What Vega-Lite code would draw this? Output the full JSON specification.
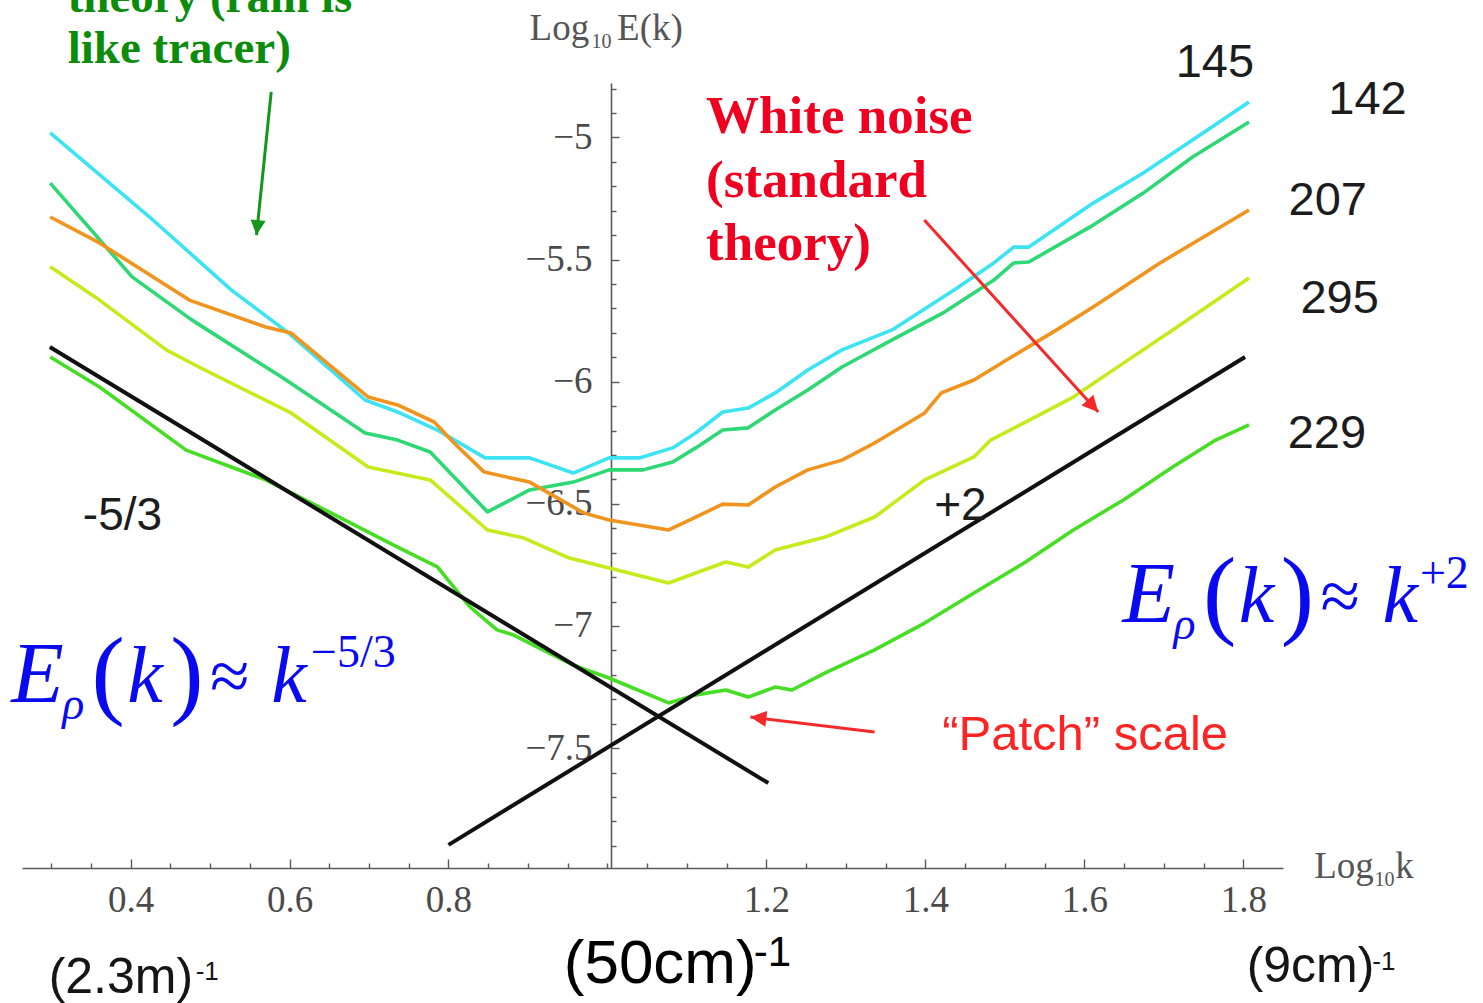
{
  "$schema": "https://vega.github.io/schema/vega-lite/v6.json",
  "width": 1261,
  "height": 785,
  "autosize": {"type": "none"},
  "padding": {"left": 22, "top": 83, "right": 200, "bottom": 135},
  "background": "white",
  "config": {"view": {"stroke": null}},
  "resolve": {"axis": {"x": "independent", "y": "independent"}},
  "datasets": {
    "spectra": [
      {"series": "145", "x": 0.299, "y": -4.982}, {"series": "145", "x": 0.424, "y": -5.326}, {"series": "145", "x": 0.527, "y": -5.625}, {"series": "145", "x": 0.599, "y": -5.801}, {"series": "145", "x": 0.695, "y": -6.075}, {"series": "145", "x": 0.736, "y": -6.124}, {"series": "145", "x": 0.786, "y": -6.198}, {"series": "145", "x": 0.846, "y": -6.312}, {"series": "145", "x": 0.902, "y": -6.312}, {"series": "145", "x": 0.957, "y": -6.374}, {"series": "145", "x": 1.002, "y": -6.312}, {"series": "145", "x": 1.040, "y": -6.312}, {"series": "145", "x": 1.082, "y": -6.271}, {"series": "145", "x": 1.111, "y": -6.210}, {"series": "145", "x": 1.145, "y": -6.124}, {"series": "145", "x": 1.177, "y": -6.108}, {"series": "145", "x": 1.211, "y": -6.046}, {"series": "145", "x": 1.252, "y": -5.952}, {"series": "145", "x": 1.295, "y": -5.870}, {"series": "145", "x": 1.358, "y": -5.788}, {"series": "145", "x": 1.436, "y": -5.625}, {"series": "145", "x": 1.486, "y": -5.514}, {"series": "145", "x": 1.511, "y": -5.449}, {"series": "145", "x": 1.530, "y": -5.449}, {"series": "145", "x": 1.611, "y": -5.269}, {"series": "145", "x": 1.674, "y": -5.146}, {"series": "145", "x": 1.736, "y": -5.011}, {"series": "145", "x": 1.807, "y": -4.855},
      {"series": "142", "x": 0.299, "y": -5.187}, {"series": "142", "x": 0.402, "y": -5.571}, {"series": "142", "x": 0.477, "y": -5.747}, {"series": "142", "x": 0.590, "y": -5.981}, {"series": "142", "x": 0.695, "y": -6.210}, {"series": "142", "x": 0.736, "y": -6.239}, {"series": "142", "x": 0.777, "y": -6.288}, {"series": "142", "x": 0.849, "y": -6.533}, {"series": "142", "x": 0.902, "y": -6.443}, {"series": "142", "x": 0.957, "y": -6.411}, {"series": "142", "x": 1.002, "y": -6.361}, {"series": "142", "x": 1.045, "y": -6.361}, {"series": "142", "x": 1.082, "y": -6.329}, {"series": "142", "x": 1.111, "y": -6.271}, {"series": "142", "x": 1.145, "y": -6.198}, {"series": "142", "x": 1.177, "y": -6.189}, {"series": "142", "x": 1.211, "y": -6.116}, {"series": "142", "x": 1.252, "y": -6.034}, {"series": "142", "x": 1.295, "y": -5.940}, {"series": "142", "x": 1.358, "y": -5.829}, {"series": "142", "x": 1.424, "y": -5.715}, {"series": "142", "x": 1.486, "y": -5.584}, {"series": "142", "x": 1.511, "y": -5.514}, {"series": "142", "x": 1.530, "y": -5.510}, {"series": "142", "x": 1.611, "y": -5.359}, {"series": "142", "x": 1.674, "y": -5.228}, {"series": "142", "x": 1.736, "y": -5.080}, {"series": "142", "x": 1.807, "y": -4.937},
      {"series": "207", "x": 0.299, "y": -5.326}, {"series": "207", "x": 0.361, "y": -5.432}, {"series": "207", "x": 0.474, "y": -5.666}, {"series": "207", "x": 0.570, "y": -5.776}, {"series": "207", "x": 0.602, "y": -5.801}, {"series": "207", "x": 0.699, "y": -6.063}, {"series": "207", "x": 0.736, "y": -6.095}, {"series": "207", "x": 0.782, "y": -6.165}, {"series": "207", "x": 0.807, "y": -6.251}, {"series": "207", "x": 0.845, "y": -6.370}, {"series": "207", "x": 0.902, "y": -6.411}, {"series": "207", "x": 0.970, "y": -6.537}, {"series": "207", "x": 1.002, "y": -6.566}, {"series": "207", "x": 1.077, "y": -6.607}, {"series": "207", "x": 1.111, "y": -6.554}, {"series": "207", "x": 1.145, "y": -6.501}, {"series": "207", "x": 1.177, "y": -6.505}, {"series": "207", "x": 1.211, "y": -6.431}, {"series": "207", "x": 1.252, "y": -6.361}, {"series": "207", "x": 1.295, "y": -6.321}, {"series": "207", "x": 1.336, "y": -6.251}, {"series": "207", "x": 1.399, "y": -6.128}, {"series": "207", "x": 1.420, "y": -6.046}, {"series": "207", "x": 1.461, "y": -5.993}, {"series": "207", "x": 1.502, "y": -5.911}, {"series": "207", "x": 1.565, "y": -5.788}, {"series": "207", "x": 1.611, "y": -5.694}, {"series": "207", "x": 1.695, "y": -5.514}, {"series": "207", "x": 1.807, "y": -5.297},
      {"series": "295", "x": 0.299, "y": -5.530}, {"series": "295", "x": 0.361, "y": -5.666}, {"series": "295", "x": 0.445, "y": -5.870}, {"series": "295", "x": 0.486, "y": -5.940}, {"series": "295", "x": 0.602, "y": -6.128}, {"series": "295", "x": 0.699, "y": -6.349}, {"series": "295", "x": 0.777, "y": -6.402}, {"series": "295", "x": 0.849, "y": -6.607}, {"series": "295", "x": 0.895, "y": -6.640}, {"series": "295", "x": 0.952, "y": -6.722}, {"series": "295", "x": 1.002, "y": -6.763}, {"series": "295", "x": 1.077, "y": -6.824}, {"series": "295", "x": 1.111, "y": -6.783}, {"series": "295", "x": 1.149, "y": -6.738}, {"series": "295", "x": 1.177, "y": -6.759}, {"series": "295", "x": 1.211, "y": -6.689}, {"series": "295", "x": 1.274, "y": -6.636}, {"series": "295", "x": 1.336, "y": -6.554}, {"series": "295", "x": 1.399, "y": -6.402}, {"series": "295", "x": 1.461, "y": -6.308}, {"series": "295", "x": 1.482, "y": -6.239}, {"series": "295", "x": 1.524, "y": -6.169}, {"series": "295", "x": 1.586, "y": -6.063}, {"series": "295", "x": 1.649, "y": -5.924}, {"series": "295", "x": 1.711, "y": -5.788}, {"series": "295", "x": 1.807, "y": -5.576},
      {"series": "229", "x": 0.299, "y": -5.899}, {"series": "229", "x": 0.361, "y": -6.022}, {"series": "229", "x": 0.470, "y": -6.280}, {"series": "229", "x": 0.570, "y": -6.402}, {"series": "229", "x": 0.652, "y": -6.537}, {"series": "229", "x": 0.736, "y": -6.677}, {"series": "229", "x": 0.786, "y": -6.758}, {"series": "229", "x": 0.827, "y": -6.922}, {"series": "229", "x": 0.861, "y": -7.016}, {"series": "229", "x": 0.882, "y": -7.037}, {"series": "229", "x": 0.957, "y": -7.160}, {"series": "229", "x": 1.002, "y": -7.213}, {"series": "229", "x": 1.077, "y": -7.315}, {"series": "229", "x": 1.111, "y": -7.282}, {"series": "229", "x": 1.149, "y": -7.262}, {"series": "229", "x": 1.177, "y": -7.291}, {"series": "229", "x": 1.211, "y": -7.250}, {"series": "229", "x": 1.232, "y": -7.262}, {"series": "229", "x": 1.274, "y": -7.192}, {"series": "229", "x": 1.336, "y": -7.098}, {"series": "229", "x": 1.399, "y": -6.988}, {"series": "229", "x": 1.461, "y": -6.865}, {"series": "229", "x": 1.524, "y": -6.742}, {"series": "229", "x": 1.586, "y": -6.607}, {"series": "229", "x": 1.649, "y": -6.484}, {"series": "229", "x": 1.711, "y": -6.349}, {"series": "229", "x": 1.765, "y": -6.239}, {"series": "229", "x": 1.807, "y": -6.177}
    ],
    "fits": [
      {"fit": "-5/3", "x": 0.2985, "y": -5.858}, {"fit": "-5/3", "x": 1.2023, "y": -7.643},
      {"fit": "+2", "x": 0.800, "y": -7.896}, {"fit": "+2", "x": 1.802, "y": -5.899}
    ],
    "arrows": [
      {"arrow": "rain", "x": 0.577, "y": -4.814, "x2": 0.5585, "y2": -5.400},
      {"arrow": "noise", "x": 1.3985, "y": -5.338, "x2": 1.6173, "y2": -6.124},
      {"arrow": "patch", "x": 1.336, "y": -7.434, "x2": 1.1798, "y2": -7.3725}
    ],
    "notes": [
      {"kind": "series", "label": "145", "x": 1.764, "y": -4.753},
      {"kind": "series", "label": "142", "x": 1.956, "y": -4.903},
      {"kind": "series", "label": "207", "x": 1.906, "y": -5.318},
      {"kind": "series", "label": "295", "x": 1.921, "y": -5.719},
      {"kind": "series", "label": "229", "x": 1.905, "y": -6.271},
      {"kind": "slope", "label": "-5/3", "x": 0.340, "y": -6.607},
      {"kind": "slope", "label": "+2", "x": 1.411, "y": -6.566},
      {"kind": "green", "label": "theory (rain is", "x": 0.321, "y": -4.487},
      {"kind": "green", "label": "like tracer)", "x": 0.321, "y": -4.695},
      {"kind": "red", "label": "White noise", "x": 1.124, "y": -4.982},
      {"kind": "red", "label": "(standard", "x": 1.124, "y": -5.244},
      {"kind": "red", "label": "theory)", "x": 1.124, "y": -5.502},
      {"kind": "patch", "label": "“Patch” scale", "x": 1.421, "y": -7.508},
      {"kind": "scale", "label": "(2.3m)", "x": 0.297, "y": -8.502},
      {"kind": "scale", "label": "(9cm)", "x": 1.804, "y": -8.457},
      {"kind": "scaleBig", "label": "(50cm)", "x": 0.945, "y": -8.461},
      {"kind": "sup", "label": "-1", "x": 0.482, "y": -8.449},
      {"kind": "sup", "label": "-1", "x": 1.962, "y": -8.408},
      {"kind": "supBig", "label": "-1", "x": 1.184, "y": -8.392},
      {"kind": "fE", "label": "E", "x": 0.250, "y": -7.311},
      {"kind": "fE", "label": "E", "x": 1.648, "y": -6.984},
      {"kind": "fK", "label": "k", "x": 0.396, "y": -7.311},
      {"kind": "fK", "label": "k", "x": 0.577, "y": -7.311},
      {"kind": "fK", "label": "k", "x": 1.794, "y": -6.984},
      {"kind": "fK", "label": "k", "x": 1.975, "y": -6.984},
      {"kind": "fRho", "label": "ρ", "x": 0.314, "y": -7.381},
      {"kind": "fRho", "label": "ρ", "x": 1.712, "y": -7.053},
      {"kind": "fParen", "label": "(", "x": 0.351, "y": -7.328},
      {"kind": "fParen", "label": ")", "x": 0.450, "y": -7.328},
      {"kind": "fParen", "label": "(", "x": 1.749, "y": -7.000},
      {"kind": "fParen", "label": ")", "x": 1.847, "y": -7.000},
      {"kind": "fApprox", "label": "≈", "x": 0.500, "y": -7.303},
      {"kind": "fApprox", "label": "≈", "x": 1.897, "y": -6.975},
      {"kind": "fExp", "label": "−5/3", "x": 0.627, "y": -7.168},
      {"kind": "fExp", "label": "+2", "x": 2.022, "y": -6.845},
      {"kind": "axisTitle", "label": "Log", "x": 0.902, "y": -4.601},
      {"kind": "axisTitle", "label": "E(k)", "x": 1.012, "y": -4.601},
      {"kind": "axisTitle", "label": "Log", "x": 1.889, "y": -8.032},
      {"kind": "axisTitle", "label": "k", "x": 1.991, "y": -8.032},
      {"kind": "axisSub", "label": "10", "x": 0.980, "y": -4.634},
      {"kind": "axisSub", "label": "10", "x": 1.965, "y": -8.064}
    ]
  },
  "layer": [
    {
      "data": {"name": "spectra"},
      "mark": {"type": "line", "strokeWidth": 3.6, "strokeJoin": "round"},
      "encoding": {
        "x": {
          "field": "x", "type": "quantitative", "title": null,
          "scale": {"domain": [0.2635, 1.84975], "nice": false, "zero": false},
          "axis": {
            "title": null, "grid": false, "orient": "bottom",
            "values": [0.4, 0.6, 0.8, 1.2, 1.4, 1.6, 1.8],
            "format": ".1f",
            "tickSize": -9,
            "tickColor": "#5a5a5a", "tickWidth": 1.4,
            "domainColor": "#5a5a5a", "domainWidth": 1.6,
            "labelFont": "Liberation Serif", "labelFontSize": 37, "labelColor": "#4a4a4a",
            "labelPadding": 23, "labelFlush": false, "labelOverlap": false, "labelBound": false
          }
        },
        "y": {
          "field": "y", "type": "quantitative", "title": null,
          "scale": {"domain": [-7.9906, -4.7774], "nice": false, "zero": false},
          "axis": {
            "title": null, "grid": false, "orient": "left", "offset": -589,
            "values": [-7.5, -7, -6.5, -6, -5.5, -5],
            "format": ".1~f",
            "tickSize": -8,
            "tickColor": "#5a5a5a", "tickWidth": 1.4,
            "domainColor": "#5a5a5a", "domainWidth": 1.6,
            "labelFont": "Liberation Serif", "labelFontSize": 37, "labelColor": "#4a4a4a",
            "labelPadding": 27, "labelFlush": false, "labelOverlap": false, "labelBound": false
          }
        },
        "color": {
          "field": "series", "type": "nominal", "legend": null,
          "scale": {"domain": ["145", "142", "207", "295", "229"], "range": ["#3be3f3", "#2ed874", "#f0941e", "#c4ec1c", "#46de24"]}
        }
      }
    },
    {
      "data": {"name": "fits"},
      "mark": {"type": "line", "strokeWidth": 4, "color": "#111111"},
      "encoding": {
        "x": {
          "field": "x", "type": "quantitative", "title": null,
          "axis": {
            "title": null, "grid": false, "orient": "bottom", "domain": false, "labels": false,
            "values": [0.3, 0.35, 0.45, 0.5, 0.55, 0.65, 0.7, 0.75, 0.85, 0.9, 0.95, 1, 1.05, 1.1, 1.15, 1.25, 1.3, 1.35, 1.45, 1.5, 1.55, 1.65, 1.7, 1.75],
            "tickSize": -5, "tickColor": "#5a5a5a", "tickWidth": 1.4
          }
        },
        "y": {
          "field": "y", "type": "quantitative", "title": null,
          "axis": {
            "title": null, "grid": false, "orient": "left", "offset": -589, "domain": false, "labels": false,
            "values": [-7.9, -7.8, -7.7, -7.6, -7.4, -7.3, -7.2, -7.1, -6.9, -6.8, -6.7, -6.6, -6.4, -6.3, -6.2, -6.1, -5.9, -5.8, -5.7, -5.6, -5.4, -5.3, -5.2, -5.1, -4.9, -4.8],
            "tickSize": -5, "tickColor": "#5a5a5a", "tickWidth": 1.4
          }
        },
        "detail": {"field": "fit"}
      }
    },
    {
      "data": {"name": "arrows"},
      "transform": [{"filter": "datum.arrow === 'rain'"}],
      "mark": {"type": "rule", "strokeWidth": 3, "color": "#13961a"},
      "encoding": {
        "x": {"field": "x", "type": "quantitative", "axis": null},
        "y": {"field": "y", "type": "quantitative", "axis": null},
        "x2": {"field": "x2"},
        "y2": {"field": "y2"}
      }
    },
    {
      "data": {"name": "arrows"},
      "transform": [{"filter": "datum.arrow !== 'rain'"}],
      "mark": {"type": "rule", "strokeWidth": 3, "color": "#f42a2a"},
      "encoding": {
        "x": {"field": "x", "type": "quantitative", "axis": null},
        "y": {"field": "y", "type": "quantitative", "axis": null},
        "x2": {"field": "x2"},
        "y2": {"field": "y2"}
      }
    },
    {
      "data": {"name": "arrows"},
      "transform": [{"filter": "datum.arrow === 'rain'"}],
      "mark": {"type": "point", "shape": "M0,0L-1,-2L1,-2Z", "filled": true, "opacity": 1, "size": 225, "angle": 6, "color": "#13961a"},
      "encoding": {
        "x": {"field": "x2", "type": "quantitative", "axis": null},
        "y": {"field": "y2", "type": "quantitative", "axis": null}
      }
    },
    {
      "data": {"name": "arrows"},
      "transform": [{"filter": "datum.arrow === 'noise'"}],
      "mark": {"type": "point", "shape": "M0,0L-1,-2L1,-2Z", "filled": true, "opacity": 1, "size": 256, "angle": -42.3, "color": "#f42a2a"},
      "encoding": {
        "x": {"field": "x2", "type": "quantitative", "axis": null},
        "y": {"field": "y2", "type": "quantitative", "axis": null}
      }
    },
    {
      "data": {"name": "arrows"},
      "transform": [{"filter": "datum.arrow === 'patch'"}],
      "mark": {"type": "point", "shape": "M0,0L-1,-2L1,-2Z", "filled": true, "opacity": 1, "size": 256, "angle": 96.8, "color": "#f42a2a"},
      "encoding": {
        "x": {"field": "x2", "type": "quantitative", "axis": null},
        "y": {"field": "y2", "type": "quantitative", "axis": null}
      }
    },
    {
      "data": {"name": "notes"},
      "transform": [{"filter": "datum.kind === 'series'"}],
      "mark": {"type": "text", "font": "Liberation Sans", "fontSize": 47, "color": "#1c1c1c", "align": "center", "baseline": "alphabetic"},
      "encoding": {"x": {"field": "x", "type": "quantitative", "axis": null}, "y": {"field": "y", "type": "quantitative", "axis": null}, "text": {"field": "label"}}
    },
    {
      "data": {"name": "notes"},
      "transform": [{"filter": "datum.kind === 'slope'"}],
      "mark": {"type": "text", "font": "Liberation Sans", "fontSize": 46, "color": "#1c1c1c", "align": "left", "baseline": "alphabetic"},
      "encoding": {"x": {"field": "x", "type": "quantitative", "axis": null}, "y": {"field": "y", "type": "quantitative", "axis": null}, "text": {"field": "label"}}
    },
    {
      "data": {"name": "notes"},
      "transform": [{"filter": "datum.kind === 'green'"}],
      "mark": {"type": "text", "font": "Liberation Serif", "fontWeight": "bold", "fontSize": 47, "color": "#0b8c0b", "align": "left", "baseline": "alphabetic"},
      "encoding": {"x": {"field": "x", "type": "quantitative", "axis": null}, "y": {"field": "y", "type": "quantitative", "axis": null}, "text": {"field": "label"}}
    },
    {
      "data": {"name": "notes"},
      "transform": [{"filter": "datum.kind === 'red'"}],
      "mark": {"type": "text", "font": "Liberation Serif", "fontWeight": "bold", "fontSize": 53, "color": "#f00020", "align": "left", "baseline": "alphabetic"},
      "encoding": {"x": {"field": "x", "type": "quantitative", "axis": null}, "y": {"field": "y", "type": "quantitative", "axis": null}, "text": {"field": "label"}}
    },
    {
      "data": {"name": "notes"},
      "transform": [{"filter": "datum.kind === 'patch'"}],
      "mark": {"type": "text", "font": "Liberation Sans", "fontSize": 49, "color": "#ff2424", "align": "left", "baseline": "alphabetic"},
      "encoding": {"x": {"field": "x", "type": "quantitative", "axis": null}, "y": {"field": "y", "type": "quantitative", "axis": null}, "text": {"field": "label"}}
    },
    {
      "data": {"name": "notes"},
      "transform": [{"filter": "datum.kind === 'scale'"}],
      "mark": {"type": "text", "font": "Liberation Sans", "fontSize": 50, "color": "#151515", "align": "left", "baseline": "alphabetic"},
      "encoding": {"x": {"field": "x", "type": "quantitative", "axis": null}, "y": {"field": "y", "type": "quantitative", "axis": null}, "text": {"field": "label"}}
    },
    {
      "data": {"name": "notes"},
      "transform": [{"filter": "datum.kind === 'scaleBig'"}],
      "mark": {"type": "text", "font": "Liberation Sans", "fontSize": 62, "color": "#000000", "align": "left", "baseline": "alphabetic"},
      "encoding": {"x": {"field": "x", "type": "quantitative", "axis": null}, "y": {"field": "y", "type": "quantitative", "axis": null}, "text": {"field": "label"}}
    },
    {
      "data": {"name": "notes"},
      "transform": [{"filter": "datum.kind === 'sup'"}],
      "mark": {"type": "text", "font": "Liberation Sans", "fontSize": 26, "color": "#151515", "align": "left", "baseline": "alphabetic"},
      "encoding": {"x": {"field": "x", "type": "quantitative", "axis": null}, "y": {"field": "y", "type": "quantitative", "axis": null}, "text": {"field": "label"}}
    },
    {
      "data": {"name": "notes"},
      "transform": [{"filter": "datum.kind === 'supBig'"}],
      "mark": {"type": "text", "font": "Liberation Sans", "fontSize": 42, "color": "#000000", "align": "left", "baseline": "alphabetic"},
      "encoding": {"x": {"field": "x", "type": "quantitative", "axis": null}, "y": {"field": "y", "type": "quantitative", "axis": null}, "text": {"field": "label"}}
    },
    {
      "data": {"name": "notes"},
      "transform": [{"filter": "datum.kind === 'fE'"}],
      "mark": {"type": "text", "font": "Liberation Serif", "fontStyle": "italic", "fontSize": 86, "color": "#0a0af0", "align": "left", "baseline": "alphabetic"},
      "encoding": {"x": {"field": "x", "type": "quantitative", "axis": null}, "y": {"field": "y", "type": "quantitative", "axis": null}, "text": {"field": "label"}}
    },
    {
      "data": {"name": "notes"},
      "transform": [{"filter": "datum.kind === 'fK'"}],
      "mark": {"type": "text", "font": "Liberation Serif", "fontStyle": "italic", "fontSize": 80, "color": "#0a0af0", "align": "left", "baseline": "alphabetic"},
      "encoding": {"x": {"field": "x", "type": "quantitative", "axis": null}, "y": {"field": "y", "type": "quantitative", "axis": null}, "text": {"field": "label"}}
    },
    {
      "data": {"name": "notes"},
      "transform": [{"filter": "datum.kind === 'fRho'"}],
      "mark": {"type": "text", "font": "Liberation Serif", "fontStyle": "italic", "fontSize": 46, "color": "#0a0af0", "align": "left", "baseline": "alphabetic"},
      "encoding": {"x": {"field": "x", "type": "quantitative", "axis": null}, "y": {"field": "y", "type": "quantitative", "axis": null}, "text": {"field": "label"}}
    },
    {
      "data": {"name": "notes"},
      "transform": [{"filter": "datum.kind === 'fParen'"}],
      "mark": {"type": "text", "font": "Liberation Serif", "fontSize": 100, "color": "#0a0af0", "align": "left", "baseline": "alphabetic"},
      "encoding": {"x": {"field": "x", "type": "quantitative", "axis": null}, "y": {"field": "y", "type": "quantitative", "axis": null}, "text": {"field": "label"}}
    },
    {
      "data": {"name": "notes"},
      "transform": [{"filter": "datum.kind === 'fApprox'"}],
      "mark": {"type": "text", "font": "Liberation Serif", "fontSize": 72, "color": "#0a0af0", "align": "left", "baseline": "alphabetic"},
      "encoding": {"x": {"field": "x", "type": "quantitative", "axis": null}, "y": {"field": "y", "type": "quantitative", "axis": null}, "text": {"field": "label"}}
    },
    {
      "data": {"name": "notes"},
      "transform": [{"filter": "datum.kind === 'fExp'"}],
      "mark": {"type": "text", "font": "Liberation Serif", "fontSize": 46, "color": "#0a0af0", "align": "left", "baseline": "alphabetic"},
      "encoding": {"x": {"field": "x", "type": "quantitative", "axis": null}, "y": {"field": "y", "type": "quantitative", "axis": null}, "text": {"field": "label"}}
    },
    {
      "data": {"name": "notes"},
      "transform": [{"filter": "datum.kind === 'axisTitle'"}],
      "mark": {"type": "text", "font": "Liberation Serif", "fontSize": 37, "color": "#555555", "align": "left", "baseline": "alphabetic"},
      "encoding": {"x": {"field": "x", "type": "quantitative", "axis": null}, "y": {"field": "y", "type": "quantitative", "axis": null}, "text": {"field": "label"}}
    },
    {
      "data": {"name": "notes"},
      "transform": [{"filter": "datum.kind === 'axisSub'"}],
      "mark": {"type": "text", "font": "Liberation Serif", "fontSize": 20, "color": "#555555", "align": "left", "baseline": "alphabetic"},
      "encoding": {"x": {"field": "x", "type": "quantitative", "axis": null}, "y": {"field": "y", "type": "quantitative", "axis": null}, "text": {"field": "label"}}
    }
  ]
}
